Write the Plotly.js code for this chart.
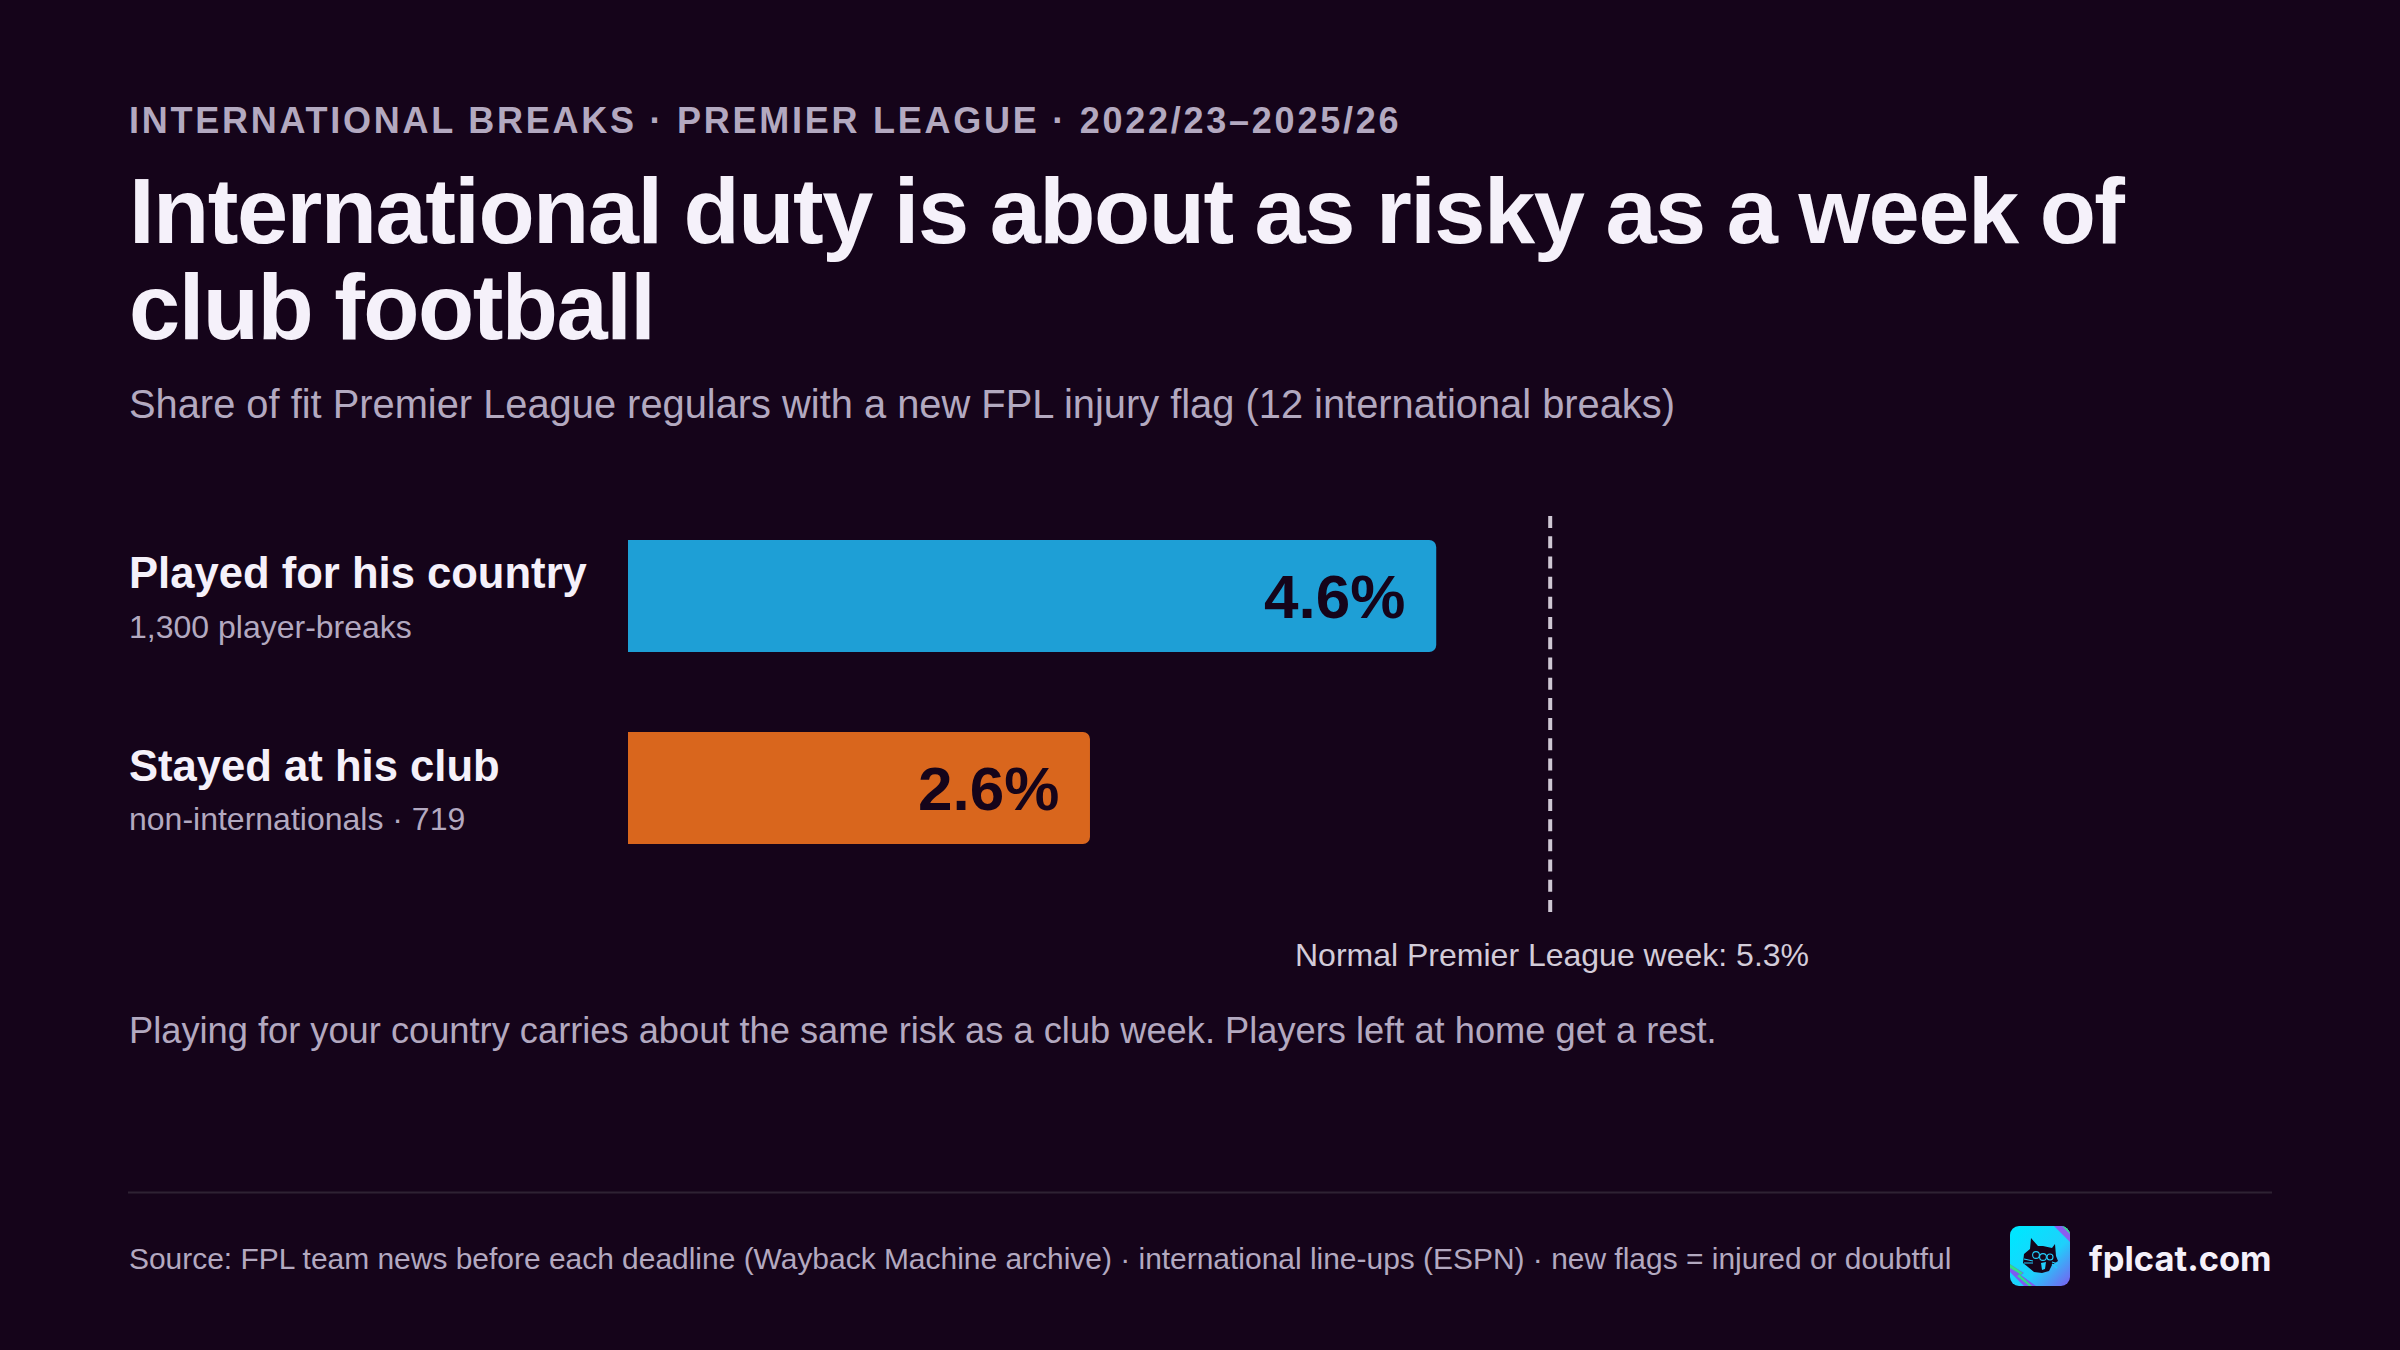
<!DOCTYPE html>
<html><head><meta charset="utf-8">
<script src="https://cdn.plot.ly/plotly-3.0.1.min.js"></script>
<style>
html,body{margin:0;padding:0;background:#15041a}
#c{width:2400px;height:1350px}
g.annotation[data-index="0"] text{letter-spacing:2.75px}
g.annotation[data-index="1"] text,g.annotation[data-index="2"] text{letter-spacing:-1.5px;word-spacing:-2px}
</style></head><body><div id="c"></div>
<script>
const categories = ["Played for his country","Stayed at his club"];
const subLabels = ["1,300 player-breaks","non-internationals · 719"];
const shares = [4.645,2.655];
const shareLabels = ["4.6%","2.6%"];
const barColors = ["#1e9fd6","#d9661d"];
const normalWeek = 5.3;
const normalLabel = "Normal Premier League week: 5.3%";
const eyebrow = "INTERNATIONAL BREAKS · PREMIER LEAGUE · 2022/23–2025/26";
const headlineLines = ["International duty is about as risky as a week of","club football"];
const subtitle = "Share of fit Premier League regulars with a new FPL injury flag (12 international breaks)";
const note = "Playing for your country carries about the same risk as a club week. Players left at home get a rest.";
const source = "Source: FPL team news before each deadline (Wayback Machine archive) · international line-ups (ESPN) · new flags = injured or doubtful";
const brand = "fplcat.com";

const W=2400,H=1350,BG="#15041a",F="Liberation Sans, Arial, sans-serif",MUTED="#b3a9c0",LEFT=127.5;
const px=x=>x/W, py=y=>1-y/H;
const txt=(text,x,y,size,color,o={})=>Object.assign({text,xref:"paper",yref:"paper",x:px(x),y:py(y),
  xanchor:"left",yanchor:"middle",align:"left",showarrow:false,borderpad:0,
  font:{family:F,size,color}},o);
const bold=(size,color,family=F)=>({font:{family,size,color,weight:700}});

const logoSvg=`<svg xmlns="http://www.w3.org/2000/svg" viewBox="0 0 60 60">
<defs><linearGradient id="g" x1="0.1" y1="0.1" x2="1" y2="1"><stop offset="0" stop-color="#00e6ff"/><stop offset="0.55" stop-color="#1fd0fb"/><stop offset="1" stop-color="#7c5cf0"/></linearGradient>
<clipPath id="r"><rect width="60" height="60" rx="9"/></clipPath></defs>
<g clip-path="url(#r)"><rect width="60" height="60" fill="url(#g)"/>
<path d="M44 0L60 16V5L55 0Z" fill="#8a5cf0"/><path d="M52 0L60 8V0Z" fill="#2fe08a"/>
<path d="M0 38L14 47L11 49L26 60H14L0 46Z" fill="#7c5cf0"/><path d="M0 38L13 47L10 49L22 60H19L7 50L10 48L0 42Z" fill="#2fe08a"/>
<path d="M21 12L28 20H33L42 22L45 18L46 30L48 35L42 39L39 45L32 47L24 46L18 41L13 37L14 28L20 23Z" fill="#15041a"/>
<path d="M31 37L36 36L35 43L32 44Z" fill="#22cdfb"/>
<g fill="none" stroke="#22cdfb" stroke-width="1.1"><circle cx="26" cy="29" r="3.4"/><circle cx="33" cy="31" r="3.4"/><circle cx="40" cy="31" r="3"/>
<path d="M14 33L23 35M14 37L23 37M42 36L48 38M42 38L47 42"/></g></g></svg>`;
const logo="data:image/svg+xml;base64,"+btoa(logoSvg);

const annotations=[
 txt(eyebrow,LEFT,120,36,MUTED,bold(36,MUTED)),
 txt(headlineLines[0],LEFT,211,92,"#f5f1fa",bold(92,"#f5f1fa")),
 txt(headlineLines[1],LEFT,307,92,"#f5f1fa",bold(92,"#f5f1fa")),
 txt(subtitle,LEFT,404,39.85,MUTED),
 txt(note,LEFT,1030,36.25,MUTED),
 txt(source,LEFT,1258,29.95,MUTED),
 txt(brand,2273,1258,34.5,"#f5f1fa",Object.assign({xanchor:"right",align:"right"},bold(34.5,"#f5f1fa","Inter, sans-serif"))),
 txt(normalLabel,1552,955,32,"#d3ccd9",{xanchor:"center",align:"center"}),
];
categories.forEach((c,i)=>{
  const top=i*192;
  annotations.push(txt(c,LEFT,573.5+top,43.6,"#f5f1fa",bold(43.6,"#f5f1fa")));
  annotations.push(txt(subLabels[i],LEFT,627+top,32,MUTED));
  annotations.push({text:shareLabels[i],xref:"x",yref:"y",x:shares[i],y:c,xanchor:"right",yanchor:"middle",
    xshift:-30,showarrow:false,borderpad:0,font:{family:F,size:62,color:"#15041a",weight:700}});
});

Plotly.newPlot("c",[{
  type:"bar",orientation:"h",y:categories,x:shares,width:0.583,
  marker:{color:barColors,cornerradius:7,line:{width:0}},hoverinfo:"skip"
}],{
  width:W,height:H,paper_bgcolor:BG,plot_bgcolor:BG,showlegend:false,
  margin:{l:0,r:0,t:0,b:0,pad:0},
  xaxis:{domain:[px(628),px(2272)],range:[0,(2272-628)/174],visible:false,fixedrange:true},
  yaxis:{domain:[py(912),py(516)],type:"category",categoryorder:"array",categoryarray:categories,
         range:[1+124/192,-80/192],visible:false,fixedrange:true},
  shapes:[
   {type:"line",xref:"x",yref:"paper",x0:normalWeek,x1:normalWeek,y0:py(516),y1:py(912),
    line:{color:"#cfc8d4",width:4,dash:"12px,8.21px"}},
   {type:"line",xref:"paper",yref:"paper",x0:px(128),x1:px(2272),y0:py(1192.5),y1:py(1192.5),
    line:{color:"#2e2233",width:2}}
  ],
  images:[{source:logo,xref:"paper",yref:"paper",x:px(2010),y:py(1226),sizex:px(60),sizey:60/H,
    xanchor:"left",yanchor:"top",sizing:"stretch",layer:"above"}],
  annotations
},{staticPlot:true,displayModeBar:false});
</script></body></html>
